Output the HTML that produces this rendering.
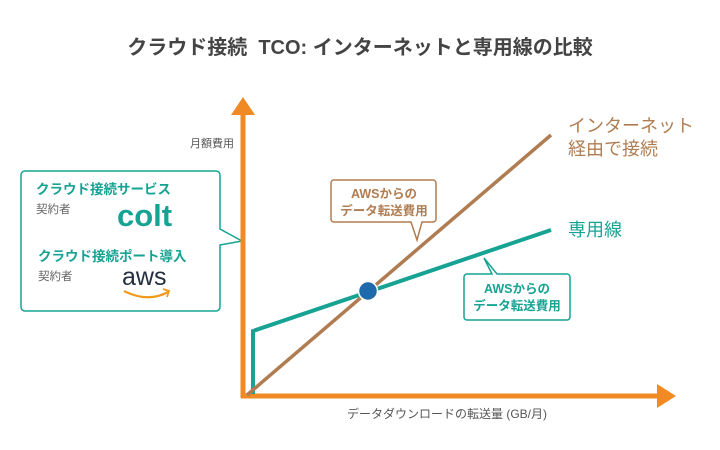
<!DOCTYPE html>
<html><head><meta charset="utf-8"><style>
html,body{margin:0;padding:0;background:#fff;}
svg{display:block;font-family:"Liberation Sans","Noto Sans CJK JP",sans-serif;}
</style></head><body>
<svg width="720" height="450" viewBox="0 0 720 450" xmlns="http://www.w3.org/2000/svg">
<text x="360" y="54" text-anchor="middle" font-size="20" font-weight="bold" fill="#444">クラウド接続&#160;&#160;TCO: インターネットと専用線の比較</text>
<!-- left box -->
<path d="M25 171 H216 a4 4 0 0 1 4 4 V229 L242 241 L220 245 V307 a4 4 0 0 1 -4 4 H25 a4 4 0 0 1 -4 -4 V175 a4 4 0 0 1 4 -4 Z" fill="#fff" stroke="#17a393" stroke-width="1.5"/>
<text x="36" y="194" font-size="13.5" font-weight="bold" fill="#17a393">クラウド接続サービス</text>
<text x="36" y="213" font-size="11.5" fill="#666">契約者</text>
<text x="117" y="226" font-size="31" font-weight="bold" fill="#17a393">colt</text>
<text x="38" y="261" font-size="13.5" font-weight="bold" fill="#17a393">クラウド接続ポート導入</text>
<text x="38" y="280" font-size="11.5" fill="#666">契約者</text>
<text x="122" y="285" font-size="25" fill="#232f3e">aws</text>
<path d="M124 291 Q148 303 168 292" fill="none" stroke="#f29a1c" stroke-width="2.2"/>
<path d="M163 289 L169 291 L167 297" fill="none" stroke="#f29a1c" stroke-width="1.8"/>
<!-- axes -->
<text x="190" y="147" font-size="11" fill="#555">月額費用</text>
<line x1="243" y1="110" x2="243" y2="398" stroke="#f08a24" stroke-width="5"/>
<polygon points="243,97 231,115 255,115" fill="#f08a24"/>
<line x1="241" y1="396" x2="660" y2="396" stroke="#f08a24" stroke-width="5"/>
<polygon points="676,396 657,384 657,408" fill="#f08a24"/>
<text x="447" y="418" text-anchor="middle" font-size="12" fill="#555">データダウンロードの転送量 (GB/月)</text>
<!-- lines -->
<polyline points="253,394 253,331 551,230" fill="none" stroke="#17a393" stroke-width="4"/>
<line x1="247" y1="395" x2="551" y2="135" stroke="#b07d52" stroke-width="3.5"/>
<circle cx="368" cy="291" r="9.5" fill="#1f6aad" stroke="#fff" stroke-width="1.5"/>
<text x="568" y="132" font-size="18" fill="#b07d52">インターネット</text>
<text x="568" y="155" font-size="18" fill="#b07d52">経由で接続</text>
<text x="568" y="236" font-size="18" fill="#17a393">専用線</text>
<!-- brown callout -->
<path d="M334 180 H433 a3 3 0 0 1 3 3 V219 a3 3 0 0 1 -3 3 H422 L417 240 L411 222 H334 a3 3 0 0 1 -3 -3 V183 a3 3 0 0 1 3 -3 Z" fill="#fff" stroke="#b07d52" stroke-width="1.5"/>
<text x="384" y="198" text-anchor="middle" font-size="12.5" font-weight="bold" fill="#b07d52">AWSからの</text>
<text x="384" y="215" text-anchor="middle" font-size="12.5" font-weight="bold" fill="#b07d52">データ転送費用</text>
<!-- teal callout -->
<path d="M467 274 H492 L484 258 L497 274 H567 a3 3 0 0 1 3 3 V317 a3 3 0 0 1 -3 3 H467 a3 3 0 0 1 -3 -3 V277 a3 3 0 0 1 3 -3 Z" fill="#fff" stroke="#17a393" stroke-width="1.5"/>
<text x="517" y="293" text-anchor="middle" font-size="12.5" font-weight="bold" fill="#17a393">AWSからの</text>
<text x="517" y="310" text-anchor="middle" font-size="12.5" font-weight="bold" fill="#17a393">データ転送費用</text>
</svg>
</body></html>
